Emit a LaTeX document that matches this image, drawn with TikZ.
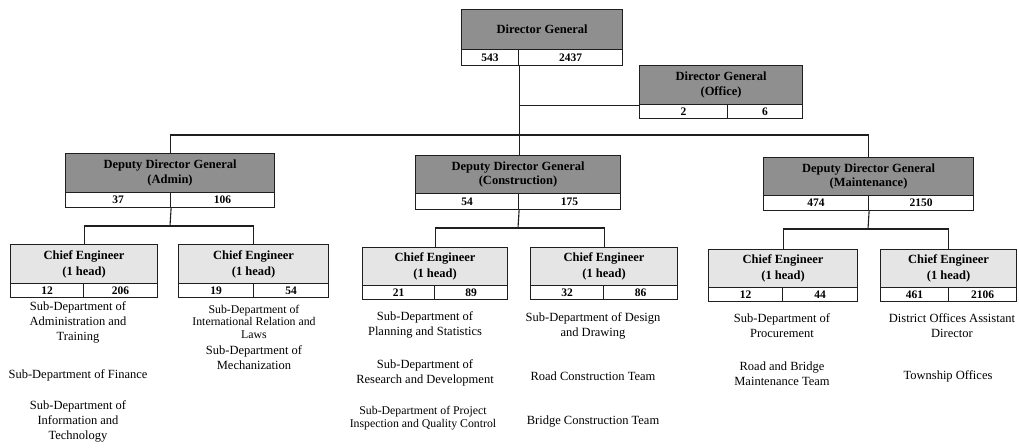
\documentclass[tikz,border=0pt]{standalone}
\usepackage{fontspec}
\setmainfont{Liberation Serif}
\definecolor{hdrdark}{gray}{0.56}
\definecolor{hdrlight}{gray}{0.9}
\definecolor{linecol}{gray}{0.12}
\tikzset{
  boxbase/.style={draw=linecol, line width=1.1pt, inner sep=0pt, anchor=north west, align=center},
  hdrD/.style={boxbase, fill=hdrdark, font=\bfseries\fontsize{12.5}{14.5}\selectfont},
  hdrL/.style={boxbase, fill=hdrlight, font=\bfseries\fontsize{12.5}{16}\selectfont},
  cell/.style={boxbase, fill=white, font=\bfseries\fontsize{11.5}{13}\selectfont},
  conn/.style={draw=linecol, line width=1.1pt},
  desc/.style={inner sep=0pt, align=center, font=\fontsize{12.5}{15}\selectfont},
  descs/.style={inner sep=0pt, align=center, font=\fontsize{11.8}{12.5}\selectfont}
}
\begin{document}
\begin{tikzpicture}[x=1pt,y=-1pt]
\useasboundingbox (0,0) rectangle (1019,447);
% Director General
\node[hdrD, minimum width=161pt, minimum height=40pt] (dg) at (461,9) {Director General};
\node[cell, minimum width=57pt, minimum height=16pt] (dgL) at (461,49) {543};
\node[cell, minimum width=104pt, minimum height=16pt] (dgR) at (518,49) {2437};
% Director General (Office)
\node[hdrD, minimum width=163pt, minimum height=39pt] (off) at (639,65) {Director General\\(Office)};
\node[cell, minimum width=88pt, minimum height=14pt] (offL) at (639,104) {2};
\node[cell, minimum width=75pt, minimum height=14pt] (offR) at (727,104) {6};
% Deputy Director Generals
\node[hdrD, minimum width=209pt, minimum height=39pt] (ddgA) at (65,153) {Deputy Director General\\(Admin)};
\node[cell, minimum width=105pt, minimum height=15pt] (ddgAL) at (65,192) {37};
\node[cell, minimum width=104pt, minimum height=15pt] (ddgAR) at (170,192) {106};
\node[hdrD, minimum width=205pt, minimum height=38pt] (ddgC) at (415,155) {Deputy Director General\\(Construction)};
\node[cell, minimum width=103pt, minimum height=16pt] (ddgCL) at (415,193) {54};
\node[cell, minimum width=102pt, minimum height=16pt] (ddgCR) at (518,193) {175};
\node[hdrD, minimum width=210pt, minimum height=38pt] (ddgM) at (763,157) {Deputy Director General\\(Maintenance)};
\node[cell, minimum width=105pt, minimum height=15pt] (ddgML) at (763,195) {474};
\node[cell, minimum width=105pt, minimum height=15pt] (ddgMR) at (868,195) {2150};
% Chief Engineers
\node[hdrL, minimum width=147pt, minimum height=39pt] (ce1) at (10,244) {Chief Engineer\\(1 head)};
\node[cell, minimum width=73pt, minimum height=14pt] (ce1L) at (10,283) {12};
\node[cell, minimum width=74pt, minimum height=14pt] (ce1R) at (83,283) {206};
\node[hdrL, minimum width=150pt, minimum height=39pt] (ce2) at (178,244) {Chief Engineer\\(1 head)};
\node[cell, minimum width=75pt, minimum height=14pt] (ce2L) at (178,283) {19};
\node[cell, minimum width=75pt, minimum height=14pt] (ce2R) at (253,283) {54};
\node[hdrL, minimum width=145pt, minimum height=38pt] (ce3) at (362,247) {Chief Engineer\\(1 head)};
\node[cell, minimum width=72pt, minimum height=14pt] (ce3L) at (362,285) {21};
\node[cell, minimum width=73pt, minimum height=14pt] (ce3R) at (434,285) {89};
\node[hdrL, minimum width=147pt, minimum height=38pt] (ce4) at (530,247) {Chief Engineer\\(1 head)};
\node[cell, minimum width=73pt, minimum height=14pt] (ce4L) at (530,285) {32};
\node[cell, minimum width=74pt, minimum height=14pt] (ce4R) at (603,285) {86};
\node[hdrL, minimum width=149pt, minimum height=38pt] (ce5) at (708,249) {Chief Engineer\\(1 head)};
\node[cell, minimum width=74pt, minimum height=14pt] (ce5L) at (708,287) {12};
\node[cell, minimum width=75pt, minimum height=14pt] (ce5R) at (782,287) {44};
\node[hdrL, minimum width=136pt, minimum height=38pt] (ce6) at (880,249) {Chief Engineer\\(1 head)};
\node[cell, minimum width=68pt, minimum height=14pt] (ce6L) at (880,287) {461};
\node[cell, minimum width=68pt, minimum height=14pt] (ce6R) at (948,287) {2106};
% Connectors
\coordinate (bus) at (518,135);
\draw[conn] (dgL.south east) -- (dgL.south east |- ddgC.north);
\draw[conn] (dgL.south east |- off.south west) -- (off.south west);
\draw[conn] (ddgA.north) -- (ddgA.north |- bus) -- (ddgM.north |- bus) -- (ddgM.north);
\coordinate (sbA) at (170,226);
\coordinate (sbC) at (518,228);
\coordinate (sbM) at (868,229);
\draw[conn] (ddgAL.south east) -- (sbA);
\draw[conn] (ce1.north) -- (ce1.north |- sbA) -- (ce2.north |- sbA) -- (ce2.north);
\draw[conn] (ddgCL.south east) -- (sbC);
\draw[conn] (ce3.north) -- (ce3.north |- sbC) -- (ce4.north |- sbC) -- (ce4.north);
\draw[conn] (ddgML.south east) -- (sbM);
\draw[conn] (ce5.north) -- (ce5.north |- sbM) -- (ce6.north |- sbM) -- (ce6.north);
% Descriptions
\node[desc] (t1a) at (78,322) {Sub-Department of\\Administration and\\Training};
\node[desc] (t1b) at (78,375) {Sub-Department of Finance};
\node[desc] (t1c) at (78,421) {Sub-Department of\\Information and\\Technology};
\node[descs] (t2a) at (254,321.5) {Sub-Department of\\International Relation and\\Laws};
\node[desc] (t2b) at (254,358) {Sub-Department of\\Mechanization};
\node[desc] (t3a) at (425,325) {Sub-Department of\\Planning and Statistics};
\node[desc] (t3b) at (425,373) {Sub-Department of\\Research and Development};
\node[descs] (t3c) at (423,418) {Sub-Department of Project\\Inspection and Quality Control};
\node[desc] (t4a) at (593,326) {Sub-Department of Design\\and Drawing};
\node[desc] (t4b) at (593,376) {Road Construction Team};
\node[desc] (t4c) at (593,422) {Bridge Construction Team};
\node[desc] (t5a) at (782,326) {Sub-Department of\\Procurement};
\node[desc] (t5b) at (782,374) {Road and Bridge\\Maintenance Team};
\node[desc] (t6a) at (952,326) {District Offices Assistant\\Director};
\node[desc] (t6b) at (948,376) {Township Offices};
\end{tikzpicture}
\end{document}
